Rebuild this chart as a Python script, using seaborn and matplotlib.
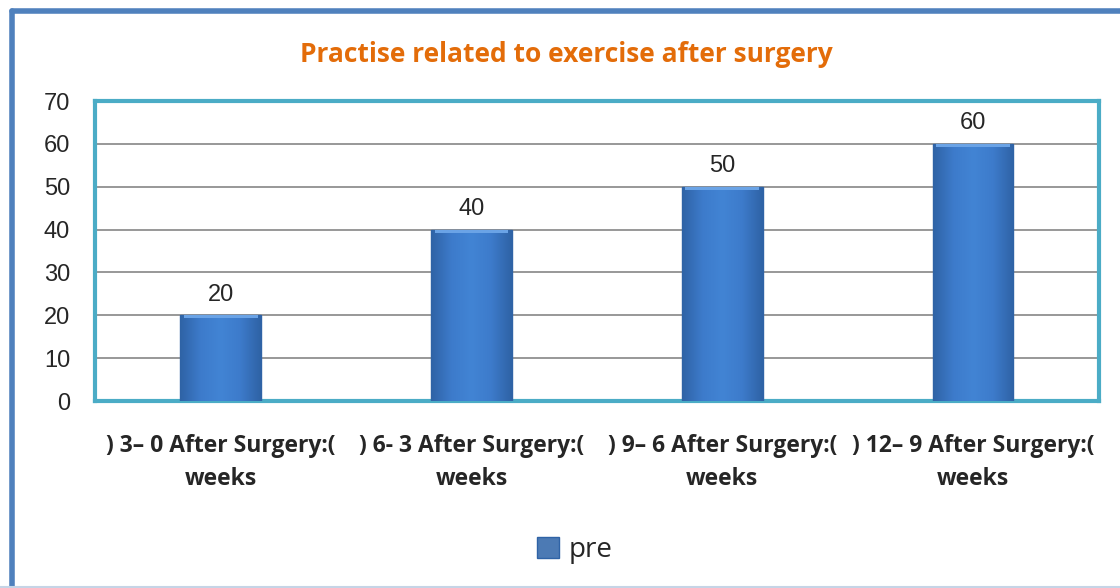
import matplotlib
matplotlib.use("Agg")
import matplotlib.pyplot as plt
import seaborn as sns
import pandas as pd
import numpy as np
from matplotlib.colors import LinearSegmentedColormap

categories = [") 3\u2013 0 After Surgery:(\nweeks",
              ") 6- 3 After Surgery:(\nweeks",
              ") 9\u2013 6 After Surgery:(\nweeks",
              ") 12\u2013 9 After Surgery:(\nweeks"]
values = [20, 40, 50, 60]
series_name = "pre"
yticks = [0, 10, 20, 30, 40, 50, 60, 70]
title = "Practise related to exercise after surgery"

df = pd.DataFrame({"cat": categories, "val": values, "series": [series_name] * len(values)})

sns.set_theme(style="white")
plt.rcParams['font.family'] = ['Liberation Sans', 'DejaVu Sans']

fig = plt.figure(figsize=(11.2, 5.88), dpi=100)
ax = fig.add_axes([0.085, 0.318, 0.896, 0.51])

sns.barplot(data=df, x="cat", y="val", hue="series", palette=["#3b78c5"],
            width=0.32, ax=ax, edgecolor="#2f63a6", linewidth=1.0, zorder=3)

# shading inside bars (horizontal gradient + light top bevel)
cmap = LinearSegmentedColormap.from_list("bevel", ["#2f63a6", "#3d7bcb", "#4284d4", "#3d7bcb", "#2f63a6"])
for p in ax.patches:
    x0, y0 = p.get_x(), p.get_y()
    w, h = p.get_width(), p.get_height()
    if h <= 0:
        continue
    grad = np.tile(np.linspace(0, 1, 64), (16, 1))
    im = ax.imshow(grad, cmap=cmap, extent=[x0, x0 + w, y0, y0 + h], aspect="auto",
                   zorder=3.5, interpolation="bilinear")
    im.set_clip_path(p)
    ax.bar(x0 + w / 2, 0.7, bottom=y0 + h - 0.7, width=w * 0.92,
           color="#6aa3e6", linewidth=0, zorder=3.6)
ax.set_xlim(-0.5, len(categories) - 0.5)

ax.set_ylim(0, 70)
ax.set_yticks(yticks)
ax.set_yticklabels([str(t) for t in yticks], fontsize=17)
ax.yaxis.grid(True, color="#868686", linewidth=1.2, zorder=0)
ax.xaxis.grid(False)
ax.set_xlabel("")
ax.set_ylabel("")
ax.tick_params(axis="y", length=0, pad=18)
ax.tick_params(axis="x", length=0, pad=24)
for lab in ax.get_xticklabels():
    lab.set_fontsize(16.5)
    lab.set_fontweight("bold")
    lab.set_family(['Open Sans', 'DejaVu Sans'])
    lab.set_linespacing(1.5)
for sp in ax.spines.values():
    sp.set_visible(True)
    sp.set_color("#4bacc6")
    sp.set_linewidth(3)

ax.bar_label(ax.containers[0], labels=[str(v) for v in values], padding=7, fontsize=17)

leg = ax.legend(loc="center", bbox_to_anchor=(0.478, -0.497), frameon=False,
                handlelength=0.8, handleheight=0.8, handletextpad=0.35,
                prop={"family": "Open Sans", "size": 20})

fig.text(0.506, 0.908, title, ha="center", va="center", fontsize=19,
         fontweight="bold", color="#e36c09", family="Open Sans")

# figure frame: top and left blue lines, faint bottom line
fig.add_artist(plt.Line2D([0.0105, 1.0], [0.982, 0.982], transform=fig.transFigure,
                          color="#4f81bd", linewidth=4))
fig.add_artist(plt.Line2D([0.0105, 0.0105], [0.0, 0.982], transform=fig.transFigure,
                          color="#4f81bd", linewidth=4))
fig.add_artist(plt.Line2D([0.0, 1.0], [0.002, 0.002], transform=fig.transFigure,
                          color="#c6d4e6", linewidth=1.5))

fig.savefig("out.png", dpi=100)
